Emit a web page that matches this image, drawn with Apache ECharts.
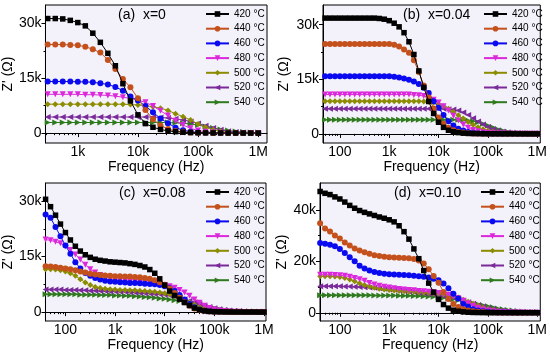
<!DOCTYPE html>
<html><head><meta charset="utf-8">
<script src="https://cdn.jsdelivr.net/npm/echarts@6/dist/echarts.min.js"></script>
<style>html,body{margin:0;padding:0;background:#fff}#c{width:550px;height:355px}</style>
</head><body><div id="c"></div>
<script>
// ---------- data ----------
const TEMPS = ['420 °C','440 °C','460 °C','480 °C','500 °C','520 °C','540 °C'];
const TITLES = ['(a)  x=0','(b)  x=0.04','(c)  x=0.08','(d)  x=0.10'];
// frequencies (Hz)
const FREQ_A = [316,422,562,750,1000,1334,1778,2371,3162,4217,5623,7499,10000,13335,17783,23714,31623,42170,56234,74989,100000,133352,177828,237137,316228,421697,562341,749894,1000000];
const FREQ_CD = [39.8,50.1,63.1,79.4,100,125.9,158.5,199.5,251.2,316.2,398.1,501.2,631,794.3,1000,1259,1585,1995,2512,3162,3981,5012,6310,7943,10000,12589,15849,19953,25119,31623,39811,50119,63096,79433,100000,125893,158489,199526,251189,316228,398107,501187,630957,794328,1000000];
const FREQ_B = [50.1,63.1,79.4,100,125.9,158.5,199.5,251.2,316.2,398.1,501.2,631,794.3,1000,1259,1585,1995,2512,3162,3981,5012,6310,7943,10000,12589,15849,19953,25119,31623,39811,50119,63096,79433,100000,125893,158489,199526,251189,316228,398107,501187,630957,794328,1000000];
// Z' values (kOhm)
const A_420 = [31.3,31.3,31.2,30.8,30.2,29.3,27.3,24.8,21.8,18.4, 13.5,8.8,5.0,2.6,1.6,1.0,0.6,0.4,0.25,0.15, 0.1,0.07,0.05,0.04,0.03,0.02,0.02,0.01,0.01];
const A_440 = [24.2,24.2,24.2,24.1,24.0,23.6,22.9,22.0,20.0,17.5, 14.8,12.5,9.5,6.3,3.8,2.1,1.1,0.6,0.35,0.2, 0.12,0.08,0.05,0.04,0.03,0.02,0.02,0.01,0.01];
const A_460 = [14.1,14.1,14.1,14.1,14.0,14.0,13.9,13.6,13.3,12.6, 11.6,10.0,8.9,7.4,5.7,4.0,2.7,1.5,0.8,0.4, 0.2,0.12,0.08,0.05,0.03,0.02,0.01,0.01,0.01];
const A_480 = [10.6,10.6,10.6,10.6,10.6,10.5,10.5,10.4,10.3,10.1, 9.8,9.5,9.0,8.4,7.4,6.1,4.8,3.4,2.2,1.3, 0.7,0.35,0.18,0.1,0.05,0.03,0.02,0.01,0.01];
const A_500 = [7.9,7.9,7.9,7.9,7.9,7.9,7.9,7.9,7.9,7.9, 7.9,7.8,7.7,7.5,7.2,6.8,6.2,5.3,4.5,3.6, 2.5,1.6,0.9,0.5,0.25,0.12,0.06,0.03,0.02];
const A_520 = [4.4,4.4,4.4,4.4,4.4,4.4,4.4,4.4,4.4,4.4, 4.4,4.4,4.4,4.4,4.4,4.3,4.1,3.9,3.6,3.2, 2.6,2.0,1.4,0.9,0.5,0.3,0.15,0.08,0.05];
const A_540 = [2.9,2.9,2.9,2.9,2.9,2.9,2.9,2.9,2.9,2.9, 2.9,2.9,2.9,2.9,2.9,2.9,2.9,2.8,2.7,2.5, 2.2,1.8,1.4,1.0,0.7,0.45,0.3,0.2,0.15];

const B_420 = [31.8,31.8,31.8,31.8,31.8,31.8,31.8,31.8,31.8,31.8, 31.8,31.7,31.5,31.1,30.4,29.4,27.8,25.3,21.8,17.3, 12.8,8.9,5.6,3.2,1.8,1.0,0.6,0.35,0.2,0.13, 0.08,0.06,0.05,0.04,0.03,0.03,0.02,0.02,0.02,0.01, 0.01,0.01,0.01,0.01];
const B_440 = [24.7,24.7,24.7,24.7,24.7,24.7,24.7,24.7,24.7,24.7, 24.7,24.7,24.7,24.7,24.5,24.0,23.2,22.3,20.2,17.0, 13.3,10.0,7.0,4.5,2.8,1.7,1.0,0.6,0.35,0.2, 0.12,0.08,0.06,0.05,0.04,0.03,0.03,0.02,0.02,0.02, 0.01,0.01,0.01,0.01];
const B_460 = [15.8,15.8,15.8,15.8,15.8,15.8,15.8,15.8,15.8,15.8, 15.8,15.8,15.8,15.8,15.7,15.5,15.2,14.9,14.4,13.7, 12.7,11.2,9.0,7.2,5.2,3.5,2.3,1.4,0.9,0.55, 0.3,0.18,0.1,0.06,0.05,0.04,0.03,0.03,0.02,0.02, 0.02,0.01,0.01,0.01];
const B_480 = [10.8,10.8,10.8,10.8,10.8,10.8,10.8,10.8,10.8,10.8, 10.8,10.8,10.8,10.8,10.8,10.8,10.8,10.8,10.7,10.6, 10.4,10.0,9.4,8.6,7.6,6.4,5.0,3.7,2.6,1.7, 1.1,0.7,0.45,0.3,0.18,0.12,0.08,0.06,0.05,0.04, 0.03,0.03,0.02,0.02];
const B_500 = [9.0,9.0,9.0,9.0,9.0,9.0,9.0,9.0,9.0,9.0, 9.0,9.0,9.0,9.0,9.0,9.0,9.0,9.0,9.0,9.0, 8.9,8.8,8.6,8.2,7.6,6.9,6.0,5.1,4.2,3.3, 2.5,1.8,1.3,0.9,0.6,0.4,0.25,0.15,0.1,0.07, 0.05,0.04,0.03,0.03];
const B_520 = [6.9,6.9,6.9,6.9,6.9,6.9,6.9,6.9,6.9,6.9, 6.9,6.9,6.9,6.9,6.9,6.9,6.9,6.9,6.9,6.9, 6.9,6.9,6.9,6.9,6.9,6.8,6.7,6.4,5.9,5.2, 4.3,3.4,2.6,1.9,1.3,0.9,0.6,0.4,0.25,0.17, 0.1,0.07,0.05,0.04];
const B_540 = [3.9,3.9,3.9,3.9,3.9,3.9,3.9,3.9,3.9,3.9, 3.9,3.9,3.9,3.9,3.9,3.9,3.9,3.9,3.9,3.9, 3.9,3.9,3.9,3.9,3.9,3.9,3.9,3.9,3.8,3.7, 3.5,3.2,2.8,2.3,1.8,1.3,0.9,0.6,0.4,0.3, 0.2,0.15,0.1,0.08];

const C_420 = [30.5,28.5,26.2,23.8,21.5,19.5,17.8,16.5,15.5,14.8, 14.3,14.0,13.8,13.6,13.5,13.4,13.3,13.1,12.9,12.6, 12.2,11.5,10.5,9.0,7.3,5.7,4.5,3.5,2.6,1.8, 1.1,0.6,0.35,0.2,0.12,0.08,0.06,0.04,0.03,0.03, 0.02,0.02,0.02,0.01,0.01];
const C_440 = [12.4,12.3,12.2,12.0,11.8,11.6,11.3,11.0,10.7,10.4, 10.2,10.0,9.9,9.8,9.7,9.7,9.6,9.6,9.5,9.4, 9.2,9.0,8.6,8.1,7.4,6.4,5.2,3.9,2.7,1.7, 1.0,0.6,0.35,0.2,0.12,0.08,0.06,0.04,0.03,0.03, 0.02,0.02,0.02,0.01,0.01];
const C_460 = [26.4,25.5,23.0,20.5,18.0,15.8,13.5,11.8,10.6,9.8, 9.2,8.8,8.5,8.3,8.2,8.1,8.0,7.9,7.9,7.8, 7.7,7.6,7.5,7.3,7.0,6.5,5.7,4.6,3.4,2.2, 1.3,0.7,0.4,0.22,0.13,0.08,0.06,0.04,0.03,0.03, 0.02,0.02,0.02,0.01,0.01];
const C_480 = [19.6,19.4,19.0,18.6,17.8,16.8,15.6,14.2,12.8,11.6, 10.7,10.0,9.5,9.1,8.8,8.6,8.4,8.3,8.2,8.1, 8.0,7.9,7.7,7.5,7.3,7.0,6.6,6.0,5.3,4.4, 3.4,2.5,1.7,1.1,0.7,0.45,0.3,0.2,0.13,0.09, 0.06,0.05,0.04,0.03,0.03];
const C_500 = [11.6,11.6,11.5,11.3,11.0,10.5,9.8,8.9,8.0,7.3, 6.8,6.5,6.3,6.2,6.1,6.0,6.0,5.9,5.9,5.8, 5.7,5.6,5.5,5.3,5.1,4.8,4.4,3.9,3.3,2.6, 2.0,1.4,0.95,0.65,0.45,0.3,0.2,0.14,0.1,0.07, 0.05,0.04,0.03,0.03,0.02];
const C_520 = [6.1,6.1,6.1,6.1,6.0,6.0,6.0,5.9,5.9,5.8, 5.8,5.7,5.7,5.6,5.6,5.5,5.5,5.4,5.3,5.2, 5.1,5.0,4.9,4.8,4.7,4.5,4.2,3.9,3.5,3.1, 2.7,2.2,1.8,1.4,1.05,0.8,0.6,0.45,0.33,0.25, 0.18,0.13,0.1,0.08,0.06];
const C_540 = [4.8,4.8,4.8,4.8,4.8,4.8,4.8,4.7,4.7,4.7, 4.7,4.6,4.6,4.6,4.5,4.5,4.4,4.4,4.3,4.2, 4.1,4.0,3.9,3.7,3.6,3.4,3.2,3.0,2.8,2.6, 2.3,2.0,1.7,1.4,1.1,0.85,0.65,0.5,0.38,0.3, 0.23,0.18,0.14,0.11,0.09];

const D_420 = [47.1,46.4,45.9,45.0,44.2,43.0,41.7,40.6,39.7,39.0, 38.4,37.8,37.2,36.7,36.1,35.3,33.8,31.5,28.6,24.8, 21.0,16.4,11.5,8.0,5.2,3.2,1.8,1.0,0.6,0.35, 0.2,0.12,0.08,0.05,0.04,0.03,0.03,0.02,0.02,0.02, 0.01,0.01,0.01,0.01,0.01];
const D_440 = [34.8,32.7,31.6,30.0,28.8,27.3,26.1,25.0,24.2,23.5, 22.9,22.3,22.0,21.8,21.6,21.5,21.4,21.3,21.2,20.9, 20.3,19.1,16.9,14.3,11.7,8.1,5.3,3.4,2.2,1.4, 0.9,0.6,0.4,0.25,0.15,0.1,0.07,0.05,0.04,0.03, 0.03,0.02,0.02,0.02,0.02];
const D_460 = [27.1,26.8,26.4,25.8,24.8,23.2,21.6,20.0,18.3,17.2, 16.4,15.8,15.4,15.2,15.0,14.9,14.8,14.7,14.6,14.4, 14.2,14.0,13.7,13.2,12.6,11.4,9.5,7.4,5.5,3.4, 2.3,1.4,0.9,0.55,0.35,0.22,0.14,0.09,0.06,0.04, 0.03,0.02,0.02,0.02,0.01];
const D_480 = [14.8,14.8,14.8,14.7,14.6,14.4,14.0,13.5,13.0,12.4, 11.6,11.0,10.5,10.1,9.8,9.5,9.2,9.0,8.8,8.7, 8.5,8.4,8.2,8.0,7.7,7.4,7.0,6.4,5.6,4.7, 3.7,2.7,1.9,1.3,0.9,0.6,0.4,0.27,0.18,0.12, 0.08,0.06,0.04,0.03,0.03];
const D_500 = [14.2,14.2,14.2,14.1,13.9,13.5,12.9,12.2,11.5,10.8, 10.2,9.7,9.3,9.0,8.8,8.6,8.5,8.4,8.3,8.2, 8.0,7.9,7.8,7.7,7.5,7.2,6.9,6.5,5.9,5.1, 4.3,3.5,2.8,2.0,1.5,1.1,0.8,0.55,0.38,0.26, 0.18,0.13,0.09,0.07,0.05];
const D_520 = [10.3,10.3,10.3,10.3,10.3,10.2,10.2,10.1,10.0,9.9, 9.8,9.7,9.5,9.3,9.1,8.9,8.7,8.5,8.3,8.1, 7.8,7.6,7.3,7.1,6.8,6.5,6.2,5.8,5.3,4.7, 4.1,3.5,2.9,2.3,1.8,1.4,1.0,0.75,0.55,0.4, 0.3,0.22,0.16,0.12,0.1];
const D_540 = [6.8,6.8,6.8,6.8,6.8,6.8,6.8,6.8,6.8,6.8, 6.8,6.7,6.7,6.7,6.7,6.7,6.6,6.6,6.6,6.5, 6.5,6.4,6.3,6.2,6.0,5.8,5.5,5.2,4.9,4.5, 4.1,3.7,3.3,2.9,2.5,2.1,1.7,1.4,1.1,0.85, 0.65,0.5,0.4,0.3,0.25];

// tick values
const XTICKS_A = [1000,10000,100000,1000000];
const XTICKS_BCD = [100,1000,10000,100000,1000000];
const XMINOR_A = [300,400,500,600,700,800,900,2000,3000,4000,5000,6000,7000,8000,9000,20000,30000,40000,50000,60000,70000,80000,90000,200000,300000,400000,500000,600000,700000,800000,900000];
const XMINOR_BCD = [40,50,60,70,80,90,200,300,400,500,600,700,800,900,2000,3000,4000,5000,6000,7000,8000,9000,20000,30000,40000,50000,60000,70000,80000,90000,200000,300000,400000,500000,600000,700000,800000,900000];
const YTICKS_ABC = [0,15,30];
const YMINOR_ABC = [7.5,22.5];
const YTICKS_D = [0,20,40];
const YMINOR_D = [10,30];
const X_LABELS = {100:'100',1000:'1k',10000:'10k',100000:'100k',1000000:'1M'};

// ---------- layout / style ----------
const FONT = 'Liberation Sans, Arial, Helvetica, sans-serif';
const COLORS = ['#000000','#c4501c','#0a0af0','#dc28dc','#8c8c00','#7a2a9a','#2f7a1e'];
const SYMBOLS = ['rect','circle','circle','triangle','diamond','triangle','triangle'];
const ROTS = [0,0,0,180,0,90,-90];

const PANELS = [
  {freq:FREQ_A, vals:[A_420,A_440,A_460,A_480,A_500,A_520,A_540], left:45, top:5, width:222, height:138,
   xmin:290, xmax:1400000, ymin:-2.7, ymax:35, xt:XTICKS_A, xm:XMINOR_A, yt:YTICKS_ABC, ym:YMINOR_ABC, nameGap:26, tl:118},
  {freq:FREQ_B, vals:[B_420,B_440,B_460,B_480,B_500,B_520,B_540], left:323, top:5, width:219, height:138,
   xmin:45.5, xmax:1150000, ymin:-2.5, ymax:35.4, xt:XTICKS_BCD, xm:XMINOR_BCD, yt:YTICKS_ABC, ym:YMINOR_ABC, nameGap:32, tl:403},
  {freq:FREQ_CD, vals:[C_420,C_440,C_460,C_480,C_500,C_520,C_540], left:45, top:183, width:221, height:138,
   xmin:39.6, xmax:1100000, ymin:-2.4, ymax:34.9, xt:XTICKS_BCD, xm:XMINOR_BCD, yt:YTICKS_ABC, ym:YMINOR_ABC, nameGap:30, tl:119},
  {freq:FREQ_CD, vals:[D_420,D_440,D_460,D_480,D_500,D_520,D_540], left:320, top:183, width:222, height:138,
   xmin:39.6, xmax:1150000, ymin:-3.2, ymax:50.4, xt:XTICKS_BCD, xm:XMINOR_BCD, yt:YTICKS_D, ym:YMINOR_D, nameGap:31, tl:394}
];

const grid=[], xAxis=[], yAxis=[], series=[], legend=[], title=[];
PANELS.forEach((p,pi)=>{
  grid.push({left:p.left, top:p.top, width:p.width, height:p.height, show:true,
    backgroundColor:'#f3f1f9', borderColor:'#000', borderWidth:1});
  xAxis.push({type:'log', gridIndex:pi, position:'bottom', min:p.xmin, max:p.xmax,
    axisLine:{lineStyle:{color:'#000',width:1}},
    axisTick:{customValues:p.xt, length:4, lineStyle:{color:'#000'}},
    axisLabel:{customValues:p.xt, formatter:v=>X_LABELS[Math.round(v)]||'', color:'#000', fontSize:14, fontFamily:FONT, margin:2},
    splitLine:{show:false}, minorTick:{show:false},
    name:'Frequency (Hz)', nameLocation:'middle', nameGap:pi<2?15:13,
    nameTextStyle:{color:'#000', fontSize:14, fontFamily:FONT}});
  xAxis.push({type:'log', gridIndex:pi, position:'bottom', min:p.xmin, max:p.xmax, axisLine:{show:false},
    axisTick:{customValues:p.xm, length:2, lineStyle:{color:'#000'}},
    axisLabel:{show:false}, splitLine:{show:false}});
  yAxis.push({type:'value', gridIndex:pi, position:'left', min:p.ymin, max:p.ymax,
    axisLine:{show:true, lineStyle:{color:'#000',width:1}},
    axisTick:{show:true, customValues:p.yt, length:4, lineStyle:{color:'#000'}},
    axisLabel:{customValues:p.yt, formatter:v=>v===0?'0':v+'k', color:'#000', fontSize:14, fontFamily:FONT, margin:4},
    splitLine:{show:false},
    name:"Z' (Ω)", nameLocation:'middle', nameGap:p.nameGap,
    nameTextStyle:{color:'#000', fontSize:14, fontFamily:FONT}});
  yAxis.push({type:'value', gridIndex:pi, position:'left', min:p.ymin, max:p.ymax, axisLine:{show:false},
    axisTick:{show:true, customValues:p.ym, length:2, lineStyle:{color:'#000'}},
    axisLabel:{show:false}, splitLine:{show:false}});
  TEMPS.forEach((t,i)=>{
    series.push({type:'line', name:t, xAxisIndex:pi*2, yAxisIndex:pi*2,
      data:p.freq.map((f,j)=>[f,p.vals[i][j]]),
      symbol:SYMBOLS[i], symbolSize:i===0?5.5:6, symbolRotate:ROTS[i],
      itemStyle:{color:COLORS[i]}, lineStyle:{color:COLORS[i], width:1},
      z:10-i, clip:true, animation:false, emphasis:{disabled:true}});
  });
  legend.push({data:TEMPS, orient:'vertical', left:p.left+160, top:p.top+4, padding:0,
    itemWidth:23, itemHeight:7, itemGap:4.7, selectedMode:false,
    textStyle:{fontSize:10, lineHeight:10, fontFamily:FONT, color:'#000'}});
  title.push({text:TITLES[pi], left:p.tl, top:p.top+3, padding:0,
    textStyle:{fontSize:14, fontWeight:'normal', fontFamily:FONT, color:'#000'}});
});

const chart = echarts.init(document.getElementById('c'), null, {renderer:'canvas'});
chart.setOption({backgroundColor:'#fff', animation:false, grid, xAxis, yAxis, series, legend, title});
</script></body></html>
